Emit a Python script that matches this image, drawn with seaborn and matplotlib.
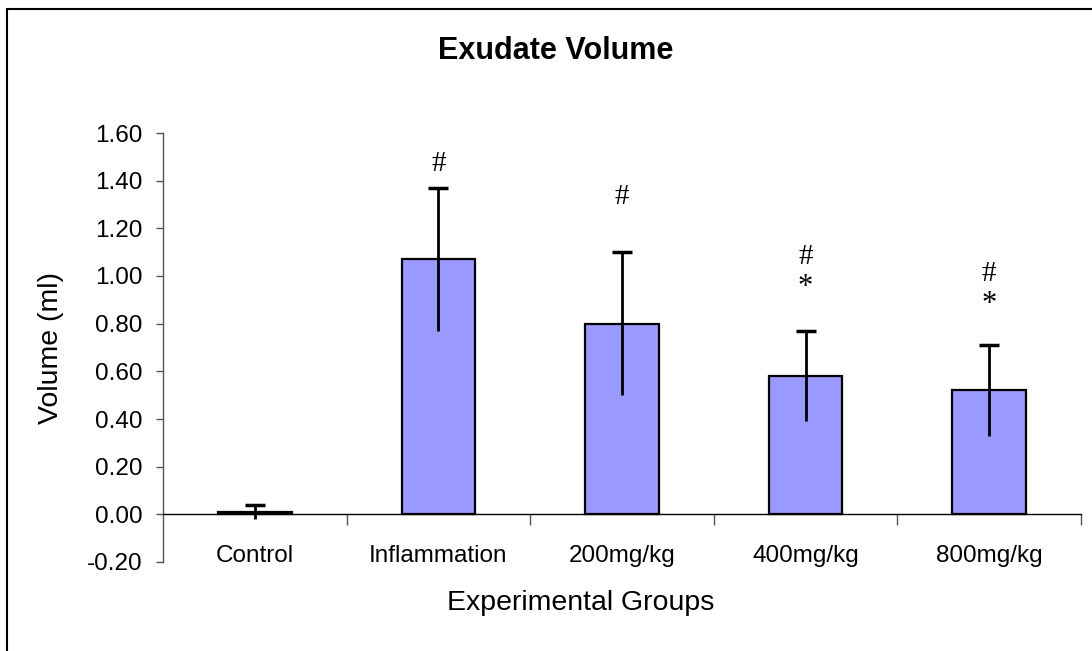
import numpy as np
import pandas as pd
import seaborn as sns
import matplotlib.pyplot as plt
from matplotlib.lines import Line2D

# data
groups = ["Control", "Inflammation", "200mg/kg", "400mg/kg", "800mg/kg"]
volume = [0.01, 1.07, 0.80, 0.58, 0.52]
sem = [0.03, 0.30, 0.30, 0.19, 0.19]
hash_y = [None, 1.47, 1.33, 1.08, 1.01]
star_y = [None, None, None, 0.95, 0.88]
yticks = [-0.20, 0.00, 0.20, 0.40, 0.60, 0.80, 1.00, 1.20, 1.40, 1.60]

df = pd.DataFrame({"group": groups, "volume": volume, "sem": sem})

sns.set_style("white")
plt.rcParams["font.family"] = ["Liberation Sans", "DejaVu Sans"]
plt.rcParams["text.color"] = "black"
plt.rcParams["xtick.color"] = "black"
plt.rcParams["ytick.color"] = "black"
plt.rcParams["axes.labelcolor"] = "black"

fig = plt.figure(figsize=(10.92, 6.51), dpi=100)
ax = fig.add_axes([163 / 1092, 1 - 562 / 651, (1081 - 163) / 1092, (562 - 133) / 651])

sns.barplot(data=df, x="group", y="volume", color="#9999FF", saturation=1,
            edgecolor="black", linewidth=1.6, width=0.4, ax=ax)

# error bars: line from mean-sem to mean+sem, cap on top only
x = np.arange(len(groups))
v = np.array(volume)
e = np.array(sem)
ax.vlines(x, v - e, v + e, color="black", lw=2, zorder=5)
ax.plot(x, v + e, ls="none", marker="_", ms=15, mew=2.5, color="black", zorder=5)

for i in range(len(groups)):
    if hash_y[i] is not None:
        ax.text(i, hash_y[i], "#", ha="center", va="center", fontsize=21,
                family="Liberation Serif")
    if star_y[i] is not None:
        ax.text(i, star_y[i], "*", ha="center", va="center", fontsize=22,
                family="Liberation Serif")

ax.set_ylim(-0.2, 1.6)
ax.set_xlim(-0.5, len(groups) - 0.5)
ax.set_yticks(yticks)
ax.set_yticklabels([f"{t:.2f}" for t in yticks], fontsize=17.5)
ax.tick_params(axis="y", direction="out", length=5, width=1, color="#555555",
               pad=10, left=True)

# x axis sits at zero, ticks between categories
for s in ["top", "right"]:
    ax.spines[s].set_visible(False)
ax.spines["bottom"].set_position(("data", 0))
ax.spines["bottom"].set_color("black")
ax.spines["bottom"].set_linewidth(1)
ax.spines["left"].set_color("#555555")
ax.spines["left"].set_linewidth(1)
ax.set_xticks(x)
ax.set_xticklabels(groups, fontsize=17.5)
ax.set_xticks(np.arange(len(groups)) + 0.5, minor=True)
ax.tick_params(axis="x", which="major", length=0, pad=22)
ax.tick_params(axis="x", which="minor", direction="out", length=8, width=1,
               color="#555555", bottom=True)

ax.set_xlabel("Experimental Groups", fontsize=20.5)
ax.xaxis.set_label_coords((581 - 163) / 918, -(603 - 562) / 429)
ax.xaxis.label.set_va("center")
ax.set_ylabel("Volume (ml)", fontsize=20.5)
ax.yaxis.set_label_coords((51 - 163) / 918, 0.5)
ax.yaxis.label.set_va("center")

fig.text(556 / 1092, 1 - 51 / 651, "Exudate Volume", ha="center", va="center",
         fontsize=22, fontweight="bold")

# outer chart border
fig.add_artist(Line2D([7 / 1092, 7 / 1092], [0, 1 - 9 / 651], color="black",
                      lw=1.5, transform=fig.transFigure))
fig.add_artist(Line2D([7 / 1092, 1], [1 - 9 / 651, 1 - 9 / 651], color="black",
                      lw=1.5, transform=fig.transFigure))

fig.savefig("out.png", dpi=100)
